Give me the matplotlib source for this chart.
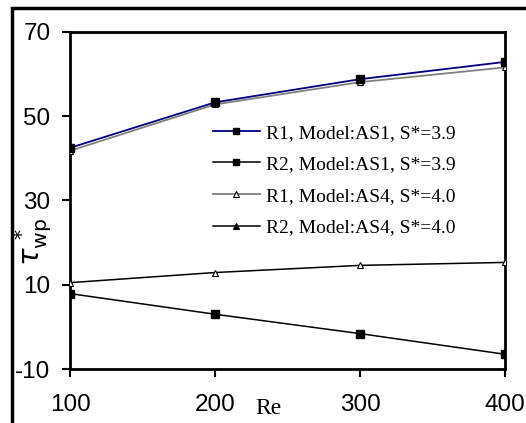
import matplotlib
matplotlib.use("Agg")
import matplotlib.pyplot as plt
from matplotlib.patches import Rectangle

plt.rcParams["axes.unicode_minus"] = False

re_vals = [100, 200, 300, 400]
r1_as1 = [42.5, 53.3, 58.8, 62.9]
r2_as1 = [7.9, 3.0, -1.6, -6.5]
r1_as4 = [41.8, 52.8, 58.1, 61.6]
r2_as4 = [10.5, 12.9, 14.6, 15.3]

labels = ["R1, Model:AS1, S*=3.9", "R2, Model:AS1, S*=3.9",
          "R1, Model:AS4, S*=4.0", "R2, Model:AS4, S*=4.0"]
yticks = [-10, 10, 30, 50, 70]
xticks = [100, 200, 300, 400]

W, H = 526, 423
fig = plt.figure(figsize=(W / 100, H / 100), dpi=100)
ax = fig.add_axes([70 / W, 1 - 369 / H, (505 - 70) / W, (369 - 32) / H])

ax.plot(re_vals, r1_as1, color="#000080", lw=1.3, marker="s", ms=5.5,
        mfc="black", mec="black", label=labels[0], zorder=4)
ax.plot(re_vals, r2_as1, color="black", lw=1.1, marker="s", ms=5.5,
        mfc="black", mec="black", label=labels[1], zorder=3)
ax.plot(re_vals, r1_as4, color="#808080", lw=1.3, marker="^", ms=5,
        mfc="white", mec="black", mew=0.8, label=labels[2], zorder=3)
ax.plot(re_vals, r2_as4, color="black", lw=1.1, marker="^", ms=5,
        mfc="white", mec="black", mew=0.8, label=labels[3], zorder=3)

ax.set_xlim(100, 400)
ax.set_ylim(-10, 70)
ax.set_xticks(xticks)
ax.set_yticks(yticks)
ax.set_xticklabels([str(v) for v in xticks], family="Liberation Sans", fontsize=17.5)
ax.set_yticklabels([str(v) for v in yticks], family="Liberation Sans", fontsize=17.5)
for s in ax.spines.values():
    s.set_linewidth(2.0)
    s.set_color("black")
ax.tick_params(direction="out", length=6, width=1.5, colors="black")
ax.tick_params(axis="y", pad=8)
ax.tick_params(axis="x", pad=12)

ax.set_xlabel("Re", family="Liberation Serif", fontsize=17)
ax.xaxis.set_label_coords((268 - 70) / (505 - 70), -0.085)
ax.set_ylabel(r"$\tau_{\mathrm{wp}}^{\,*}$", fontsize=21)
ax.yaxis.set_label_coords(-0.037, (369 - 242) / (369 - 32))

leg = ax.legend(loc="upper left", bbox_to_anchor=(213 / W, 1 - 124 / H),
                bbox_transform=fig.transFigure, frameon=False,
                prop={"family": "Liberation Serif", "size": 14},
                handlelength=2.4, handletextpad=0.3, labelspacing=0.72,
                borderpad=0, borderaxespad=0)
for h in leg.legend_handles:
    h.set_markersize(5)
leg.legend_handles[3].set_markerfacecolor("black")

fig.patches.append(Rectangle((12 / W, -0.2), 1.2, (H - 8) / H + 0.2,
                             transform=fig.transFigure, fill=False,
                             lw=2.5, edgecolor="black"))

fig.savefig("out.png", dpi=100)
